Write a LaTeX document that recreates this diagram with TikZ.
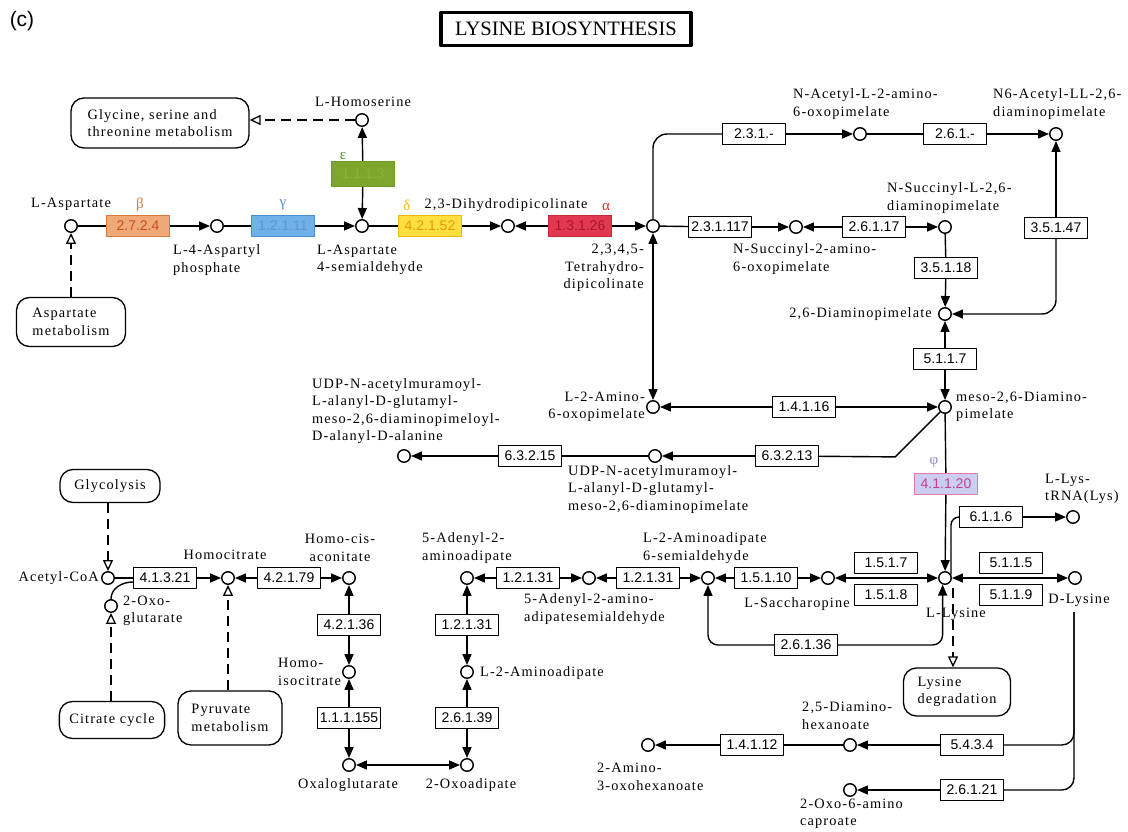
\documentclass[tikz,border=0pt]{standalone}
\usepackage{fontspec}
\usetikzlibrary{arrows.meta}
\newfontfamily\lblfamily[LetterSpace=8]{Liberation Serif}
\newfontfamily\ecfamily{Liberation Sans}
\newfontfamily\ttlfamily{Liberation Serif}
\newcommand\lblfont{\lblfamily\fontsize{14.3}{17.5}\selectfont}
\newcommand\ecfont{\ecfamily\fontsize{14}{16}\selectfont}

\definecolor{orfill}{HTML}{EFA878}
\definecolor{ordraw}{HTML}{D8783A}
\definecolor{ortext}{HTML}{C8501E}
\definecolor{blfill}{HTML}{6FB2EA}
\definecolor{bldraw}{HTML}{4A8ED0}
\definecolor{bltext}{HTML}{5E96D2}
\definecolor{grfill}{HTML}{7EA52C}
\definecolor{grdraw}{HTML}{6E9A22}
\definecolor{grtext}{HTML}{8CB23A}
\definecolor{grlbl}{HTML}{4F8A22}
\definecolor{yefill}{HTML}{FFE040}
\definecolor{yedraw}{HTML}{EDB800}
\definecolor{yetext}{HTML}{E39A00}
\definecolor{refill}{HTML}{E2394E}
\definecolor{redraw}{HTML}{C8283A}
\definecolor{retext}{HTML}{A8182A}
\definecolor{relbl}{HTML}{E0282A}
\definecolor{pkfill}{HTML}{CCCDF0}
\definecolor{pkdraw}{HTML}{E27AA8}
\definecolor{pktext}{HTML}{C0428E}
\definecolor{pklbl}{HTML}{8A8AC8}

\begin{document}
\begin{tikzpicture}[x=1pt, y=-1pt, line join=round,
  cpd/.style={circle, draw, fill=white, line width=1.4pt, minimum size=12.5pt, inner sep=0pt},
  ec/.style={draw, fill=white, line width=1.3pt, minimum width=63pt, minimum height=21pt, inner sep=0pt, font=\ecfont},
  lbl/.style={font=\lblfont, inner sep=0pt},
  mapbox/.style={draw, fill=white, rounded corners=13pt, line width=1.3pt, font=\lblfont, align=left, inner xsep=10pt, inner ysep=5pt},
  link/.style={line width=1.4pt},
  fwd/.style={link, -{Triangle[length=11pt,width=9pt]}},
  both/.style={link, {Triangle[length=11pt,width=9pt]}-{Triangle[length=11pt,width=9pt]}},
  mapto/.style={line width=1.3pt, dash pattern=on 10pt off 6pt, -{Triangle[open, length=11pt, width=10pt, fill=white]}},
  greek/.style={font=\lblfamily\fontsize{15}{15}\selectfont, inner sep=0pt}]
\useasboundingbox (0,0) rectangle (1128,832);

% heading
\node[draw, line width=3.5pt, minimum width=250pt, minimum height=33pt, font=\ttlfamily\fontsize{20.5}{20.5}\selectfont] (title) at (566,29) {LYSINE BIOSYNTHESIS};
\node[font=\ecfamily\fontsize{21}{21}\selectfont, inner sep=0pt] (tag) at (22,21) {(c)};

% compounds
\node[cpd] (asp) at (71,226) {};
\node[cpd] (aspp) at (217,226) {};
\node[cpd] (asa) at (362,226) {};
\node[cpd] (hom) at (362,120) {};
\node[cpd] (dhdp) at (508,226) {};
\node[cpd] (thdp) at (653,226) {};
\node[cpd] (nacet) at (860,134) {};
\node[cpd] (n6ac) at (1056,134) {};
\node[cpd] (nsucc) at (796,227) {};
\node[cpd] (nsdap) at (945,227) {};
\node[cpd] (dap) at (945,314) {};
\node[cpd] (meso) at (945,407) {};
\node[cpd] (aop) at (653,407) {};
\node[cpd] (udpm) at (655,456) {};
\node[cpd] (udpp) at (404,456) {};
\node[cpd] (lys) at (945,578) {};
\node[cpd] (lystrna) at (1073,517) {};
\node[cpd] (dlys) at (1075,578) {};
\node[cpd] (sacc) at (828,578) {};
\node[cpd] (sald) at (708,578) {};
\node[cpd] (adsald) at (589,578) {};
\node[cpd] (adaa) at (467,578) {};
\node[cpd] (laa) at (467,672) {};
\node[cpd] (oxad) at (467,765) {};
\node[cpd] (oxglu) at (349,765) {};
\node[cpd] (hiso) at (349,672) {};
\node[cpd] (hcis) at (349,578) {};
\node[cpd] (hcit) at (228,578) {};
\node[cpd] (acoa) at (108,578) {};
\node[cpd] (oxoglu) at (111,606) {};
\node[cpd] (dah) at (850,745) {};
\node[cpd] (aoh) at (648,745) {};
\node[cpd] (oac) at (850,790) {};

% enzymes
\node[ec, fill=orfill, draw=ordraw, text=ortext] (e2724) at (138,226) {2.7.2.4};
\node[ec, fill=blfill, draw=bldraw, text=bltext] (e12111) at (283,226) {1.2.1.11};
\node[ec, fill=grfill, draw=grdraw, text=grtext, minimum height=25pt] (e1113) at (363,174) {1.1.1.3};
\node[ec, fill=yefill, draw=yedraw, text=yetext] (e42152) at (430,226) {4.2.1.52};
\node[ec, fill=refill, draw=redraw, text=retext] (e13126) at (580,226) {1.3.1.26};
\node[ec] (e231) at (754,134) {2.3.1.-};
\node[ec] (e261) at (955,134) {2.6.1.-};
\node[ec] (e231117) at (720,227) {2.3.1.117};
\node[ec] (e26117) at (874,227) {2.6.1.17};
\node[ec] (e35118) at (946,268) {3.5.1.18};
\node[ec] (e35147) at (1056,228) {3.5.1.47};
\node[ec] (e5117) at (945,359) {5.1.1.7};
\node[ec] (e14116) at (804,407) {1.4.1.16};
\node[ec] (e63213) at (787,456) {6.3.2.13};
\node[ec] (e63215) at (530,456) {6.3.2.15};
\node[ec, fill=pkfill, draw=pkdraw, text=pktext] (e41120) at (946,484) {4.1.1.20};
\node[ec] (e6116) at (991,517) {6.1.1.6};
\node[ec] (e1517) at (886,563) {1.5.1.7};
\node[ec] (e1518) at (886,595) {1.5.1.8};
\node[ec] (e5115) at (1011,563) {5.1.1.5};
\node[ec] (e5119) at (1011,595) {5.1.1.9};
\node[ec] (e15110) at (766,578) {1.5.1.10};
\node[ec] (e12131a) at (648,578) {1.2.1.31};
\node[ec] (e12131b) at (528,578) {1.2.1.31};
\node[ec] (e12131c) at (467,625) {1.2.1.31};
\node[ec] (e26139) at (467,718) {2.6.1.39};
\node[ec] (e111155) at (349,718) {1.1.1.155};
\node[ec] (e42136) at (349,625) {4.2.1.36};
\node[ec] (e42179) at (289,578) {4.2.1.79};
\node[ec] (e41321) at (165,578) {4.1.3.21};
\node[ec] (e26136) at (806,645) {2.6.1.36};
\node[ec] (e5434) at (972,745) {5.4.3.4};
\node[ec] (e14112) at (752,745) {1.4.1.12};
\node[ec] (e26121) at (972,790) {2.6.1.21};

% linked pathway maps
\node[mapbox, minimum width=178pt, minimum height=50pt] (gly) at (160,123) {Glycine, serine and\\threonine metabolism};
\node[mapbox, minimum width=109pt, minimum height=49pt] (aspmet) at (71,322) {Aspartate\\metabolism};
\node[mapbox, minimum width=100pt, minimum height=33pt] (glyc) at (110,486) {Glycolysis};
\node[mapbox, minimum width=104pt, minimum height=37pt] (citc) at (112,720) {Citrate cycle};
\node[mapbox, minimum width=104pt, minimum height=54pt] (pyr) at (230,718) {Pyruvate\\metabolism};
\node[mapbox, minimum width=107pt, minimum height=48pt] (lysdeg) at (957,692) {Lysine\\degradation};

% compound names
\node[lbl] (l-asp) at (71,204) {L-Aspartate};
\node[lbl, align=left, anchor=west] (l-aspp) at (173,260) {L-4-Aspartyl\\phosphate};
\node[lbl, align=left, anchor=west] (l-asa) at (317,260) {L-Aspartate\\4-semialdehyde};
\node[lbl] (l-hom) at (363,102) {L-Homoserine};
\node[lbl] (l-dhdp) at (506,205) {2,3-Dihydrodipicolinate};
\node[lbl, align=right, anchor=east] (l-thdp) at (644,268) {2,3,4,5-\\Tetrahydro-\\dipicolinate};
\node[lbl, align=left, anchor=west] (l-nacet) at (793,104) {N-Acetyl-L-2-amino-\\6-oxopimelate};
\node[lbl, align=left, anchor=west] (l-n6ac) at (993,104) {N6-Acetyl-LL-2,6-\\diaminopimelate};
\node[lbl, align=left, anchor=west] (l-nsucc) at (733,259) {N-Succinyl-2-amino-\\6-oxopimelate};
\node[lbl, align=left, anchor=west] (l-nsdap) at (887,198) {N-Succinyl-L-2,6-\\diaminopimelate};
\node[lbl, anchor=east] (l-dap) at (932,314) {2,6-Diaminopimelate};
\node[lbl, align=left, anchor=west] (l-meso) at (956,407) {meso-2,6-Diamino-\\pimelate};
\node[lbl, align=right, anchor=east] (l-aop) at (645,407) {L-2-Amino-\\6-oxopimelate};
\node[lbl, align=left, anchor=north west] (l-udpp) at (312,378) {UDP-N-acetylmuramoyl-\\L-alanyl-D-glutamyl-\\meso-2,6-diaminopimeloyl-\\D-alanyl-D-alanine};
\node[lbl, align=left, anchor=north west] (l-udpm) at (568,465) {UDP-N-acetylmuramoyl-\\L-alanyl-D-glutamyl-\\meso-2,6-diaminopimelate};
\node[lbl, align=left, anchor=west] (l-lystrna) at (1045,489) {L-Lys-\\tRNA(Lys)};
\node[lbl] (l-lys) at (956,614) {L-Lysine};
\node[lbl] (l-dlys) at (1079,600) {D-Lysine};
\node[lbl] (l-sacc) at (797,604) {L-Saccharopine};
\node[lbl, align=left, anchor=west] (l-sald) at (643,548) {L-2-Aminoadipate\\6-semialdehyde};
\node[lbl, align=left, anchor=west] (l-adsald) at (524,609) {5-Adenyl-2-amino-\\adipatesemialdehyde};
\node[lbl, align=left, anchor=west] (l-adaa) at (422,548) {5-Adenyl-2-\\aminoadipate};
\node[lbl, anchor=west] (l-laa) at (480,673) {L-2-Aminoadipate};
\node[lbl] (l-oxad) at (471,785) {2-Oxoadipate};
\node[lbl] (l-oxglu) at (348,785) {Oxaloglutarate};
\node[lbl, align=left, anchor=west] (l-hiso) at (278,672) {Homo-\\isocitrate};
\node[lbl, align=center] (l-hcis) at (340,548) {Homo-cis-\\aconitate};
\node[lbl] (l-hcit) at (225,555) {Homocitrate};
\node[lbl, anchor=east] (l-acoa) at (99,578) {Acetyl-CoA};
\node[lbl, align=left, anchor=west] (l-oxoglu) at (123,611) {2-Oxo-\\glutarate};
\node[lbl, align=left, anchor=west] (l-dah) at (802,716) {2,5-Diamino-\\hexanoate};
\node[lbl, align=left, anchor=west] (l-aoh) at (597,777) {2-Amino-\\3-oxohexanoate};
\node[lbl, align=left, anchor=west] (l-oac) at (800,814) {2-Oxo-6-amino\\caproate};

% enzyme tags
\node[greek, text=ordraw] (g-b) at (140,205) {β};
\node[greek, text=bldraw] (g-g) at (283,205) {γ};
\node[greek, text=grlbl] (g-e) at (343,156) {ε};
\node[greek, text=yedraw] (g-d) at (407,205) {δ};
\node[greek, text=relbl] (g-a) at (606,207) {α};
\node[greek, text=pklbl] (g-p) at (934,463) {φ};

% aspartate branch
\draw[link] (asp) -- (e2724);
\draw[fwd] (e2724) -- (aspp);
\draw[link] (aspp) -- (e12111);
\draw[fwd] (e12111) -- (asa);
\draw[fwd] (e1113) -- (hom);
\draw[fwd] (e1113) -- (asa);
\draw[link] (asa) -- (e42152);
\draw[fwd] (e42152) -- (dhdp);
\draw[fwd] (e13126) -- (dhdp);
\draw[fwd] (e13126) -- (thdp);
\draw[mapto] (hom) -- (hom -| gly.east);
\draw[mapto] (aspmet) -- (asp);

% diaminopimelate routes
\draw[link, rounded corners=14pt] (thdp) |- (e231);
\draw[fwd] (e231) -- (nacet);
\draw[link] (nacet) -- (e261);
\draw[fwd] (e261) -- (n6ac);
\draw[link] (thdp) -- (e231117);
\draw[fwd] (e231117) -- (nsucc);
\draw[fwd] (e26117) -- (nsucc);
\draw[fwd] (e26117) -- (nsdap);
\draw[link] (nsdap) -- (e35118);
\draw[fwd] (e35118) -- (dap);
\draw[fwd] (e35147) -- (n6ac);
\draw[fwd, rounded corners=14pt] (e35147) |- (dap);
\draw[fwd] (e5117) -- (dap);
\draw[fwd] (e5117) -- (meso);
\draw[both] (thdp) -- (aop);
\draw[fwd] (e14116) -- (aop);
\draw[fwd] (e14116) -- (meso);
\draw[link] (meso.225) -- ++(-45,45) -- (e63213);
\draw[fwd] (e63213) -- (udpm);
\draw[link] (udpm) -- (e63215);
\draw[fwd] (e63215) -- (udpp);
\draw[link] (meso) -- (e41120);
\draw[fwd] (e41120) -- (lys);

% lysine and aminoadipate routes
\draw[link, rounded corners=8pt] (lys.30) |- (e6116);
\draw[fwd] (e6116) -- (lystrna);
\draw[both] (sacc) -- (lys);
\draw[both] (lys) -- (dlys);
\draw[fwd] (e15110) -- (sacc);
\draw[fwd] (e15110) -- (sald);
\draw[fwd] (e12131a) -- (sald);
\draw[fwd] (e12131a) -- (adsald);
\draw[fwd] (e12131b) -- (adsald);
\draw[fwd] (e12131b) -- (adaa);
\draw[fwd] (e12131c) -- (adaa);
\draw[fwd] (e12131c) -- (laa);
\draw[fwd] (e26139) -- (laa);
\draw[fwd] (e26139) -- (oxad);
\draw[both] (oxglu) -- (oxad);
\draw[fwd] (e111155) -- (oxglu);
\draw[fwd] (e111155) -- (hiso);
\draw[fwd] (e42136) -- (hiso);
\draw[fwd] (e42136) -- (hcis);
\draw[fwd] (e42179) -- (hcis);
\draw[fwd] (e42179) -- (hcit);
\draw[fwd] (e41321) -- (hcit);
\draw[link] (acoa) -- (e41321);
\draw[link] (oxoglu.north) to[out=90, in=180] ([yshift=-4pt]e41321.west);
\draw[mapto] (glyc.south -| acoa) -- (acoa);
\draw[mapto] (citc.north -| oxoglu) -- (oxoglu);
\draw[mapto] (pyr.north -| hcit) -- (hcit);
\draw[fwd, rounded corners=10pt] (e26136.east) -| (lys.250);
\draw[fwd, rounded corners=10pt] (e26136.west) -| (sald);
\coordinate (lysdn) at (953,588);
\draw[mapto] (lysdn) -- (lysdn |- lysdeg.north);

% D-lysine routes
\coordinate (dlysdn) at (1074,612);
\draw[link, rounded corners=12pt] (dlysdn) |- (e5434);
\draw[link, rounded corners=12pt] (dlysdn) |- (e26121);
\draw[fwd] (e5434) -- (dah);
\draw[link] (dah) -- (e14112);
\draw[fwd] (e14112) -- (aoh);
\draw[fwd] (e26121) -- (oac);
\end{tikzpicture}
\end{document}
